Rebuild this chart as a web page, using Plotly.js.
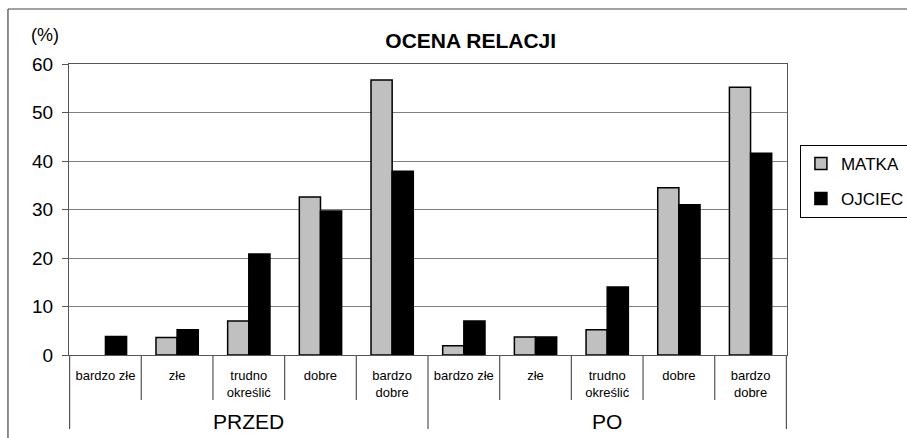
<!DOCTYPE html>
<html>
<head>
<meta charset="utf-8">
<script src="https://cdn.plot.ly/plotly-3.0.1.min.js"></script>
<style>html,body{margin:0;padding:0;background:#fff;}#chart{width:907px;height:438px;}</style>
</head>
<body>
<div id="chart"></div>
<script>
// ---- data ----
const groups = ["PRZED", "PO"];
const answers = ["bardzo złe", "złe", "trudno<br>określić", "dobre", "bardzo<br>dobre"];
const matka = [0, 3.6, 7.0, 32.6, 56.7, 1.9, 3.7, 5.2, 34.5, 55.2];
const ojciec = [3.8, 5.2, 20.8, 29.7, 37.9, 7.0, 3.7, 14.0, 31.0, 41.6];
const seriesNames = ["MATKA", "OJCIEC"];
const yTicks = [0, 10, 20, 30, 40, 50, 60];

// category keys
const keys = [];
const tickText = [];
groups.forEach(g => answers.forEach(a => { keys.push(g + " | " + a); tickText.push(a); }));

const FONT = "Liberation Sans, Arial, sans-serif";
// a zero value draws no bar at all (as in the original)
const shown = vals => vals.map(v => (v === 0 ? null : v));

const traces = [
  {type: "bar", name: seriesNames[0], x: keys, y: shown(matka), legendgroup: "a",
   marker: {color: "#c0c0c0", line: {color: "#000", width: 1.5}}},
  {type: "bar", name: seriesNames[1], x: keys, y: shown(ojciec), legendgroup: "b",
   marker: {color: "#000000", line: {color: "#000", width: 1.5}}}
];

const shapes = [];
const nCat = keys.length;
const perGroup = answers.length;
for (let i = 0; i <= nCat; i++) {
  const isGroup = (i % perGroup === 0);
  shapes.push({type: "line", xref: "x", yref: "paper", x0: i - 0.5, x1: i - 0.5,
    y0: 0, y1: isGroup ? -0.254 : -0.155, line: {color: "#555", width: 1.2}});
}
// outer frame
shapes.push({type: "line", xref: "paper", yref: "paper", x0: -0.085, x1: 1.2, y0: 1.189, y1: 1.189, line: {color: "#444", width: 1.2}});
shapes.push({type: "line", xref: "paper", yref: "paper", x0: -0.085, x1: -0.085, y0: 1.189, y1: -0.3, line: {color: "#444", width: 1.2}});

const annotations = groups.map((g, gi) => ({
  text: g, xref: "x", yref: "paper", x: gi * perGroup + (perGroup - 1) / 2, y: -0.228,
  xanchor: "center", yanchor: "middle", showarrow: false,
  font: {family: FONT, size: 21, color: "#000"}
}));
annotations.push({text: "(%)", xref: "paper", yref: "paper", x: -0.034, y: 1.1,
  xanchor: "center", yanchor: "middle", showarrow: false,
  font: {family: FONT, size: 18, color: "#000"}});

const layout = {
  width: 907, height: 438,
  margin: {l: 69, r: 120, t: 64, b: 83, pad: 0, autoexpand: false},
  paper_bgcolor: "#fff", plot_bgcolor: "#fff",
  font: {family: FONT, color: "#000"},
  title: {text: "<b>OCENA RELACJI</b>", xref: "container", yref: "container",
    x: 0.519, y: 0.907, xanchor: "center", yanchor: "middle",
    font: {family: FONT, size: 21, color: "#000"}},
  barmode: "group", bargap: 0.41, bargroupgap: 0,
  xaxis: {type: "category", tickvals: keys, ticktext: tickText, ticks: "",
    showgrid: false, showline: true, linecolor: "#555", linewidth: 1, mirror: true,
    tickfont: {family: FONT, size: 13, color: "#000"}, ticklabelstandoff: 8,
    fixedrange: true, automargin: false},
  yaxis: {range: [0, 60], tickvals: yTicks, ticks: "outside", ticklen: 6, tickcolor: "#555",
    showline: true, linecolor: "#555", linewidth: 1, mirror: true,
    showgrid: true, gridcolor: "#808080", gridwidth: 1, zeroline: false,
    tickfont: {family: FONT, size: 19, color: "#000"}, ticklabelstandoff: 5,
    fixedrange: true, automargin: false},
  legend: {x: 1.018, y: 0.722, xanchor: "left", yanchor: "top",
    bordercolor: "#000", borderwidth: 1, bgcolor: "#fff",
    font: {family: FONT, size: 17, color: "#000"},
    traceorder: "grouped", tracegroupgap: 10, itemwidth: 30},
  shapes: shapes,
  annotations: annotations,
  showlegend: true
};

Plotly.newPlot("chart", traces, layout, {displayModeBar: false, staticPlot: true});
</script>
</body>
</html>
